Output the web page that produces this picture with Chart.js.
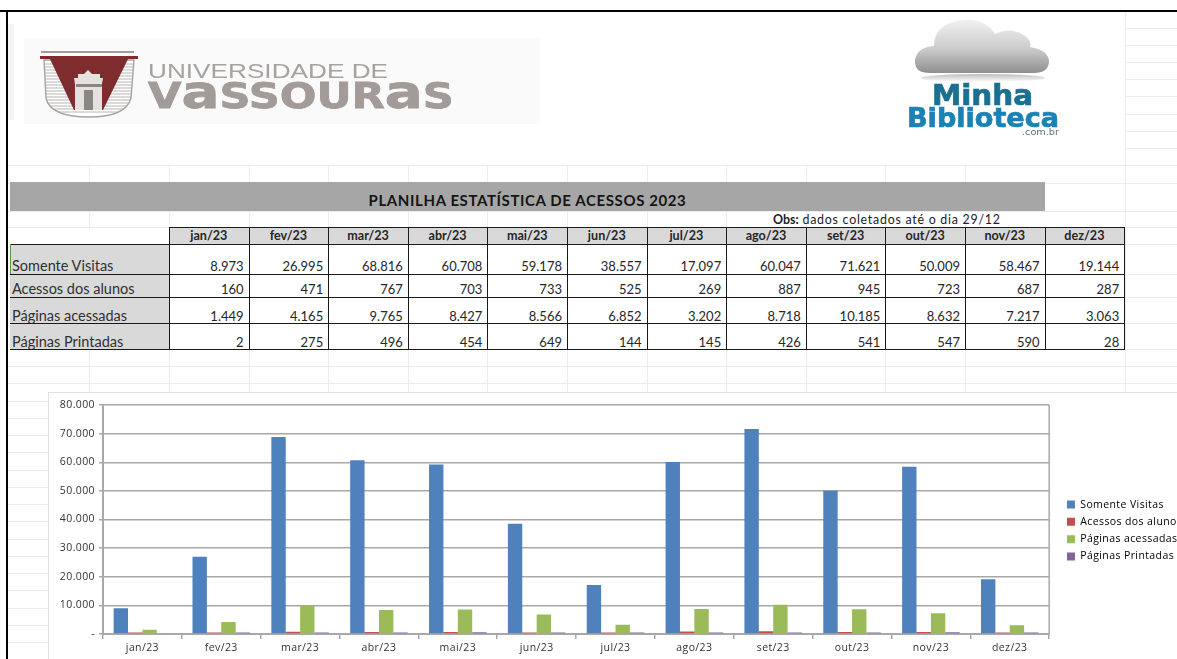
<!DOCTYPE html>
<html lang="pt-BR"><head><meta charset="utf-8">
<script src="https://cdn.jsdelivr.net/npm/chart.js@4"></script>
<style>
html,body{margin:0;padding:0;background:#fff;width:1177px;height:659px;overflow:hidden}
#page{position:relative;width:1177px;height:659px;overflow:hidden;font-family:Lato,"Noto Sans",sans-serif;color:#222}
.a{position:absolute}
.gl{position:absolute;background:#ececec}
.cell{position:absolute;box-sizing:border-box;font-size:13px;text-align:right;padding-right:5px;white-space:nowrap;color:#262626}
.hd{background:#d9d9d9;font-weight:700;text-align:center;padding:0;line-height:17px;font-size:12.6px}
.lb{text-align:left;padding:0 0 0 2px;font-size:14.5px;color:#303030}
.ln{position:absolute;background:#1a1a1a}
#wrap{position:absolute;left:48px;top:392px;width:1129px;height:272px;background:#fff}
#edge{position:absolute;left:48px;top:392px;width:1129px;height:267px;border-left:1px solid #e2e2e2;border-top:1px solid #e2e2e2;pointer-events:none}
</style></head><body>
<div id="page">
<div id="grid"></div>

<svg class="a" style="left:0;top:0;filter:blur(.45px)" width="1177" height="170" viewBox="0 0 1177 170">
  <defs>
    <linearGradient id="cl" x1="0" y1="0" x2="0" y2="1"><stop offset="0" stop-color="#f1f1f1"/><stop offset=".55" stop-color="#cbcbcb"/><stop offset="1" stop-color="#8f8f8f"/></linearGradient>
    <linearGradient id="sh" x1="0" y1="0" x2="0" y2="1"><stop offset="0" stop-color="#bdbdbd"/><stop offset="1" stop-color="#fff"/></linearGradient>
    <clipPath id="sc"><path d="M44 60 H134 L131 98 Q126 117 89 117 Q50 117 46 98 Z"/></clipPath>
  </defs>
  <rect x="24" y="38" width="516" height="86" fill="#fafafa"/>
  <rect x="8" y="24" width="6" height="96" fill="#f4f4f4"/>
  <g clip-path="url(#sc)">
    <rect x="40" y="56" width="100" height="62" fill="#fff"/>
    <g stroke="#b9b5b2" stroke-width="1"><path d="M40 64H140M40 67H140M40 70H140M40 73H140M40 76H140M40 79H140M40 82H140M40 85H140M40 88H140M40 91H140M40 94H140M40 97H140M40 100H140M40 103H140M40 106H140M40 109H140M40 112H140"/></g>
  </g>
  <path d="M44 60 H134 L131 98 Q126 117 89 117 Q50 117 46 98 Z" fill="none" stroke="#a8a4a1" stroke-width="1.4"/>
  <rect x="41" y="51" width="93" height="2" fill="#a09c99"/>
  <path d="M40 56H138V59H128L103 110H74L50 59H40Z" fill="#7f2c2e"/>
  <path d="M75 110V84L74 78H78V74H84L88 70L92 74H100V78H103L102 84V110Z" fill="#e4e2df"/>
  <path d="M84 110V90H93V110Z" fill="#8a8683"/><path d="M76 84H102V87H76Z" fill="#8a8683"/>
  <text x="148" y="78" font-family="Liberation Sans" font-size="21" fill="#a8a29f" textLength="240" lengthAdjust="spacingAndGlyphs">UNIVERSIDADE DE</text>
  <text x="148" y="108" font-family="DejaVu Sans" font-weight="700" font-size="36" fill="#a39b98" stroke="#a39b98" stroke-width=".8" textLength="306" lengthAdjust="spacingAndGlyphs">V<tspan font-size="47">a</tspan>SSOUR<tspan font-size="47">a</tspan>S</text>

  <ellipse cx="983" cy="78" rx="62" ry="4" fill="url(#sh)"/>
  <path d="M930 73 Q914 73 915 60 Q917 47 934 46 Q934 24 962 20 Q985 18 995 34 Q1010 26 1025 36 Q1032 41 1030 47 Q1049 50 1049 62 Q1048 73 1034 73 Z" fill="url(#cl)"/>
  <text x="932" y="105" font-family="DejaVu Sans" font-weight="700" font-size="28" fill="#1b6f90" stroke="#1b6f90" stroke-width=".7" textLength="101" lengthAdjust="spacingAndGlyphs">Minha</text>
  <text x="907" y="127" font-family="DejaVu Sans" font-weight="700" font-size="27" fill="#1a82b4" stroke="#1a82b4" stroke-width=".7" textLength="152" lengthAdjust="spacingAndGlyphs">Biblioteca</text>
  <text x="1022" y="135" font-family="DejaVu Sans" font-size="9" fill="#5f6f78" textLength="37" lengthAdjust="spacingAndGlyphs">.com.br</text>
</svg>

<div class="a" style="left:10px;top:182px;width:1035px;height:29px;background:#a6a6a6"></div>
<div class="a" style="left:10px;top:191px;width:1035px;text-align:center;font-weight:700;font-size:15px;line-height:19px;color:#151515;letter-spacing:.6px">PLANILHA ESTATÍSTICA DE ACESSOS 2023</div>
<div class="a" style="left:773px;top:212px;font-size:12.4px;line-height:15px;letter-spacing:.75px;white-space:nowrap;color:#222"><b style="letter-spacing:0">Obs:</b> dados coletados até o dia 29/12</div>
<div id="table"></div>
<div id="wrap"><canvas id="c" width="1129" height="272" style="display:block;width:1129px;height:272px"></canvas></div>
<div id="edge"></div>
<div class="a" style="left:0;top:10px;width:1177px;height:2px;background:#000"></div>
<div class="a" style="left:6px;top:10px;width:2px;height:649px;background:#000"></div>
</div>
<script>
const categories=['jan/23','fev/23','mar/23','abr/23','mai/23','jun/23','jul/23','ago/23','set/23','out/23','nov/23','dez/23'];
const somenteVisitas=[8973,26995,68816,60708,59178,38557,17097,60047,71621,50009,58467,19144];
const acessosAlunos=[160,471,767,703,733,525,269,887,945,723,687,287];
const paginasAcessadas=[1449,4165,9765,8427,8566,6852,3202,8718,10185,8632,7217,3063];
const paginasPrintadas=[2,275,496,454,649,144,145,426,541,547,590,28];
const seriesNames=['Somente Visitas','Acessos dos alunos','Páginas acessadas','Páginas Printadas'];
const seriesColors=['#4f81bd','#c0504d','#9bbb59','#8064a2'];
const yTicks=[0,10000,20000,30000,40000,50000,60000,70000,80000];

const fmt=v=>String(v).replace(/\B(?=(\d{3})+(?!\d))/g,'.');

/* faint spreadsheet grid behind the content */
const grid=document.getElementById('grid');
function gl(x,y,w,h){const d=document.createElement('div');d.className='gl';d.style.cssText=`left:${x}px;top:${y}px;width:${w}px;height:${h}px`;grid.appendChild(d);}
const colX=[];for(let i=0;i<=12;i++)colX.push(169+i*79.6);
[89].concat(colX.slice(0,11)).forEach(x=>{gl(Math.round(x),165,1,62);gl(Math.round(x),349,1,43);});
gl(8,165,1169,1);gl(8,183,1169,1);gl(8,211,1169,1);gl(8,227,161,1);
for(let y=366;y<392;y+=17.3)gl(8,Math.round(y),1169,1);
for(let y=400.7;y<659;y+=17.25)gl(8,Math.round(y),40,1);
for(let y=28;y<165;y+=17.1)gl(1125,Math.round(y),52,1);
gl(1125,12,1,380);
[211,227,244,274,297,323,349,366,383].forEach(y=>gl(1125,y,52,1));

/* table */
const t=document.getElementById('table');
const rowY=[244,274,297,323,349];
const rows=[somenteVisitas,acessosAlunos,paginasAcessadas,paginasPrintadas];
const textTop=[257,280,306.5,332.5];
function add(cls,css,txt){const d=document.createElement('div');d.className=cls;d.style.cssText=css;if(txt!=null)d.textContent=txt;t.appendChild(d);}
seriesNames.forEach((n,r)=>{
  add('a','left:10px;top:'+rowY[r]+'px;width:159px;height:'+(rowY[r+1]-rowY[r])+'px;background:#d9d9d9');
  add('cell lb','left:10px;top:'+textTop[r]+'px;line-height:18px;width:159px',n);
  rows[r].forEach((v,c)=>add('cell','left:'+colX[c]+'px;width:79.6px;top:'+textTop[r]+'px;line-height:18px',fmt(v)));
});
categories.forEach((m,c)=>add('cell hd','left:'+colX[c]+'px;width:79.6px;top:227px;height:17px',m));
function ln(x,y,w,h){add('ln','left:'+x+'px;top:'+y+'px;width:'+w+'px;height:'+h+'px');}
ln(169,227,956,1);
rowY.forEach(y=>ln(10,y,1115,1));
colX.forEach(x=>ln(Math.round(x),227,1,123));
add('a','left:10px;top:244px;width:1px;height:30px;background:#5c9a4a');

/* chart */
const datasets=[somenteVisitas,acessosAlunos,paginasAcessadas,paginasPrintadas].map((d,i)=>({
  label:seriesNames[i],data:d,yAxisID:'y',
  backgroundColor:ctx=>ctx.raw<10?'transparent':seriesColors[i],
  barPercentage:1,categoryPercentage:.73,
  minBarLength:(i===1||i===3)?1.5:0
}));
const axisGray='#a8a8a8', font={family:'"Open Sans"',size:10.5};
const tweak={
  id:'tweak',
  afterLayout(c){ c.legend.left+=8; c.legend.top-=8; },
  beforeDraw(c){ c.ctx.letterSpacing='0.4px'; },
  afterDatasetsDraw(c){
    const a=c.chartArea,x=c.ctx;x.save();x.strokeStyle=axisGray;x.lineWidth=1.5;
    x.beginPath();x.moveTo(a.right,a.top);x.lineTo(a.right,a.bottom);x.stroke();x.restore();
  }
};
new Chart(document.getElementById('c'),{
  type:'bar',
  data:{labels:categories,datasets},
  plugins:[tweak],
  options:{
    responsive:false,animation:false,devicePixelRatio:1,
    layout:{padding:{top:13,bottom:0,left:0,right:0}},
    plugins:{
      tooltip:{enabled:false},
      legend:{position:'right',align:'center',
        labels:{boxWidth:8,boxHeight:8,padding:6.8,color:'#333',font:{family:'"Open Sans"',size:10.5},
          generateLabels:c=>seriesNames.map((n,i)=>({text:n,fillStyle:seriesColors[i],strokeStyle:seriesColors[i],lineWidth:0,datasetIndex:i}))}}
    },
    scales:{
      x:{offset:true,
        grid:{offset:true,drawOnChartArea:false,drawTicks:true,tickLength:5,color:axisGray,lineWidth:1.5},
        border:{color:axisGray,width:2},
        ticks:{color:'#333',font,padding:3,maxRotation:0,autoSkip:false},
        afterFit:s=>{s.height=30;}
      },
      y:{min:0,max:80000,
        afterBuildTicks:s=>{s.ticks=yTicks.map(v=>({value:v}));},
        afterFit:s=>{s.width=55;},
        grid:{color:axisGray,lineWidth:1.5,tickLength:4,drawTicks:true},
        border:{color:axisGray,width:2},
        ticks:{color:'#333',font,padding:4,callback:v=>v===0?'-':fmt(v)}
      },
      spacer:{position:'right',min:0,max:1,
        grid:{display:false},border:{display:false},ticks:{display:false},
        afterFit:s=>{s.width=3;}
      }
    }
  }
});
</script>
</body></html>
